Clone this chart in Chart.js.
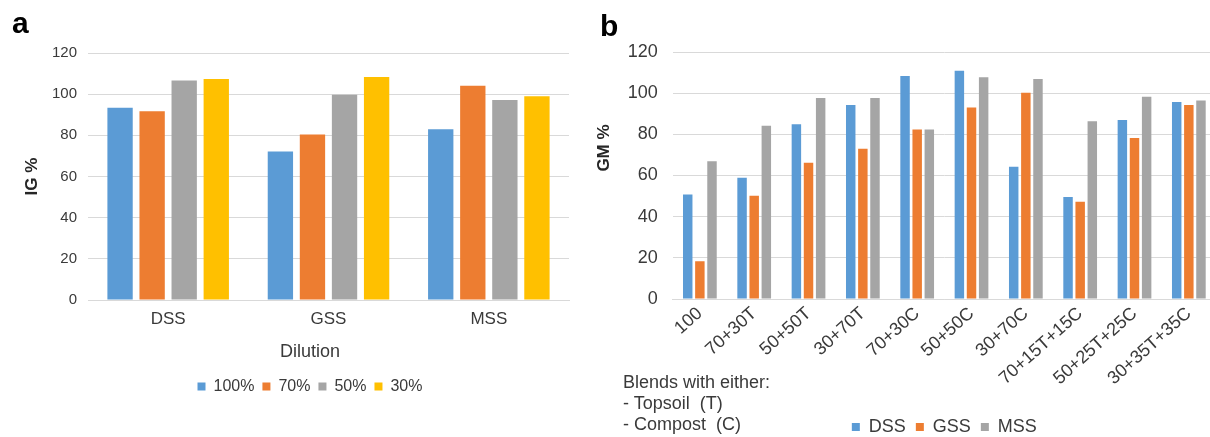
<!DOCTYPE html>
<html><head><meta charset="utf-8">
<script src="https://cdn.jsdelivr.net/npm/chart.js@4.4.1/dist/chart.umd.min.js"></script>
<style>
html,body{margin:0;padding:0;background:#fff;width:1210px;height:437px;overflow:hidden;position:relative;font-family:"Liberation Sans",Arial,sans-serif;}
#wa{position:absolute;left:0;top:0;width:602px;height:437px;}
#wb{position:absolute;left:600px;top:0;width:616px;height:446px;}
.lab{position:absolute;font-weight:bold;font-size:30px;line-height:30px;color:#000;}
#gm{position:absolute;left:604px;top:148px;transform:translate(-50%,-50%) rotate(-90deg);font-weight:bold;font-size:17px;color:#262626;white-space:nowrap;}
#note{position:absolute;left:623px;top:372px;font-size:18px;line-height:21px;color:#3a3a3a;white-space:pre;}
</style></head>
<body>
<div id="wa"><canvas id="ca" width="602" height="437"></canvas></div>
<div id="wb"><canvas id="cb" width="616" height="446"></canvas></div>
<div class="lab" style="left:12px;top:8px;">a</div>
<div class="lab" style="left:600px;top:11px;">b</div>
<div id="gm">GM %</div>
<div id="note">Blends with either:
- Topsoil  (T)
- Compost  (C)</div>
<script>
// ---- Panel a data ----
const dilutionCats = ['DSS', 'GSS', 'MSS'];
const dilutionLabels = ['100%', '70%', '50%', '30%'];
const ig100 = [93.4, 72.2, 82.9];
const ig70  = [91.7, 80.4, 104.1];
const ig50  = [106.6, 99.7, 97.2];
const ig30  = [107.4, 108.4, 99.0];

// ---- Panel b data ----
const blendCats = ['100', '70+30T', '50+50T', '30+70T', '70+30C', '50+50C', '30+70C', '70+15T+15C', '50+25T+25C', '30+35T+35C'];
const blendLabels = ['DSS', 'GSS', 'MSS'];
const gmDSS = [50.8, 58.9, 84.9, 94.3, 108.3, 110.9, 64.3, 49.6, 87.0, 95.7];
const gmGSS = [18.3, 50.2, 66.2, 73.0, 82.3, 93.0, 100.2, 47.3, 78.2, 94.3];
const gmMSS = [66.9, 84.2, 97.6, 97.6, 82.3, 107.7, 106.9, 86.3, 98.3, 96.4];

const yTicks = [0, 20, 40, 60, 80, 100, 120];

const BLUE = '#5B9BD5', ORANGE = '#ED7D31', GRAY = '#A5A5A5', YELLOW = '#FFC000';
const FONT = '"Liberation Sans", Arial, sans-serif';
const TXT = '#3a3a3a';
const GRID = '#D9D9D9';

Chart.defaults.font.family = FONT;
Chart.defaults.color = TXT;
Chart.defaults.animation = false;

// ---------- Chart a ----------
new Chart(document.getElementById('ca'), {
  type: 'bar',
  data: {
    labels: dilutionCats,
    datasets: [
      {label: dilutionLabels[0], data: ig100, backgroundColor: BLUE},
      {label: dilutionLabels[1], data: ig70, backgroundColor: ORANGE},
      {label: dilutionLabels[2], data: ig50, backgroundColor: GRAY},
      {label: dilutionLabels[3], data: ig30, backgroundColor: YELLOW}
    ]
  },
  options: {
    responsive: false,
    devicePixelRatio: 1,
    categoryPercentage: 0.80,
    barPercentage: 0.79,
    layout: {padding: {left: 18, top: 53, right: 0, bottom: 32.4}},
    plugins: {
      tooltip: {enabled: false},
      title: {
        display: true, text: 'Dilution', position: 'bottom', weight: 500,
        color: TXT, font: {size: 18, weight: 'normal'}, padding: {top: 9, bottom: 8}
      },
      legend: {
        position: 'bottom', fullSize: true,
        labels: {boxWidth: 8, boxHeight: 8, padding: 8, color: TXT, font: {size: 16}}
      }
    },
    scales: {
      x: {
        grid: {display: false, drawTicks: false},
        border: {display: true, color: GRID},
        ticks: {font: {size: 17}, color: TXT, padding: 9},
        afterFit: s => { s.height = 32; }
      },
      y: {
        min: 0, max: 120,
        afterBuildTicks: s => { s.ticks = yTicks.map(v => ({value: v})); },
        grid: {color: GRID, drawTicks: false},
        border: {display: false},
        ticks: {font: {size: 15}, color: TXT, padding: 11},
        title: {display: true, text: 'IG %', color: '#262626', font: {size: 17, weight: 'bold'}, padding: {top: 4, bottom: 9}},
        afterFit: s => { s.width = 70; }
      },
      yR: {
        position: 'right', display: true,
        grid: {display: false, drawTicks: false}, border: {display: false},
        ticks: {display: false},
        afterFit: s => { s.width = 33; }
      }
    }
  }
});

// ---------- Chart b ----------
new Chart(document.getElementById('cb'), {
  type: 'bar',
  data: {
    labels: blendCats,
    datasets: [
      {label: blendLabels[0], data: gmDSS, backgroundColor: BLUE},
      {label: blendLabels[1], data: gmGSS, backgroundColor: ORANGE},
      {label: blendLabels[2], data: gmMSS, backgroundColor: GRAY}
    ]
  },
  options: {
    responsive: false,
    devicePixelRatio: 1,
    categoryPercentage: 0.67,
    barPercentage: 0.78,
    layout: {padding: {left: 27, top: 52, right: 0, bottom: 0}},
    plugins: {
      tooltip: {enabled: false},
      legend: {
        position: 'bottom', fullSize: false,
        labels: {boxWidth: 8, boxHeight: 8, padding: 10, color: TXT, font: {size: 18}}
      }
    },
    scales: {
      x: {
        grid: {display: false, drawTicks: false},
        border: {display: true, color: GRID},
        ticks: {font: {size: 18}, color: TXT, padding: 4, minRotation: 42, maxRotation: 42, autoSkip: false},
        afterFit: s => { s.height = 109; }
      },
      y: {
        min: 0, max: 120,
        afterBuildTicks: s => { s.ticks = yTicks.map(v => ({value: v})); },
        grid: {color: GRID, drawTicks: false},
        border: {display: false},
        ticks: {font: {size: 18}, color: TXT, padding: 15},
        afterFit: s => { s.width = 45.7; }
      }
    }
  }
});
</script>
</body></html>
